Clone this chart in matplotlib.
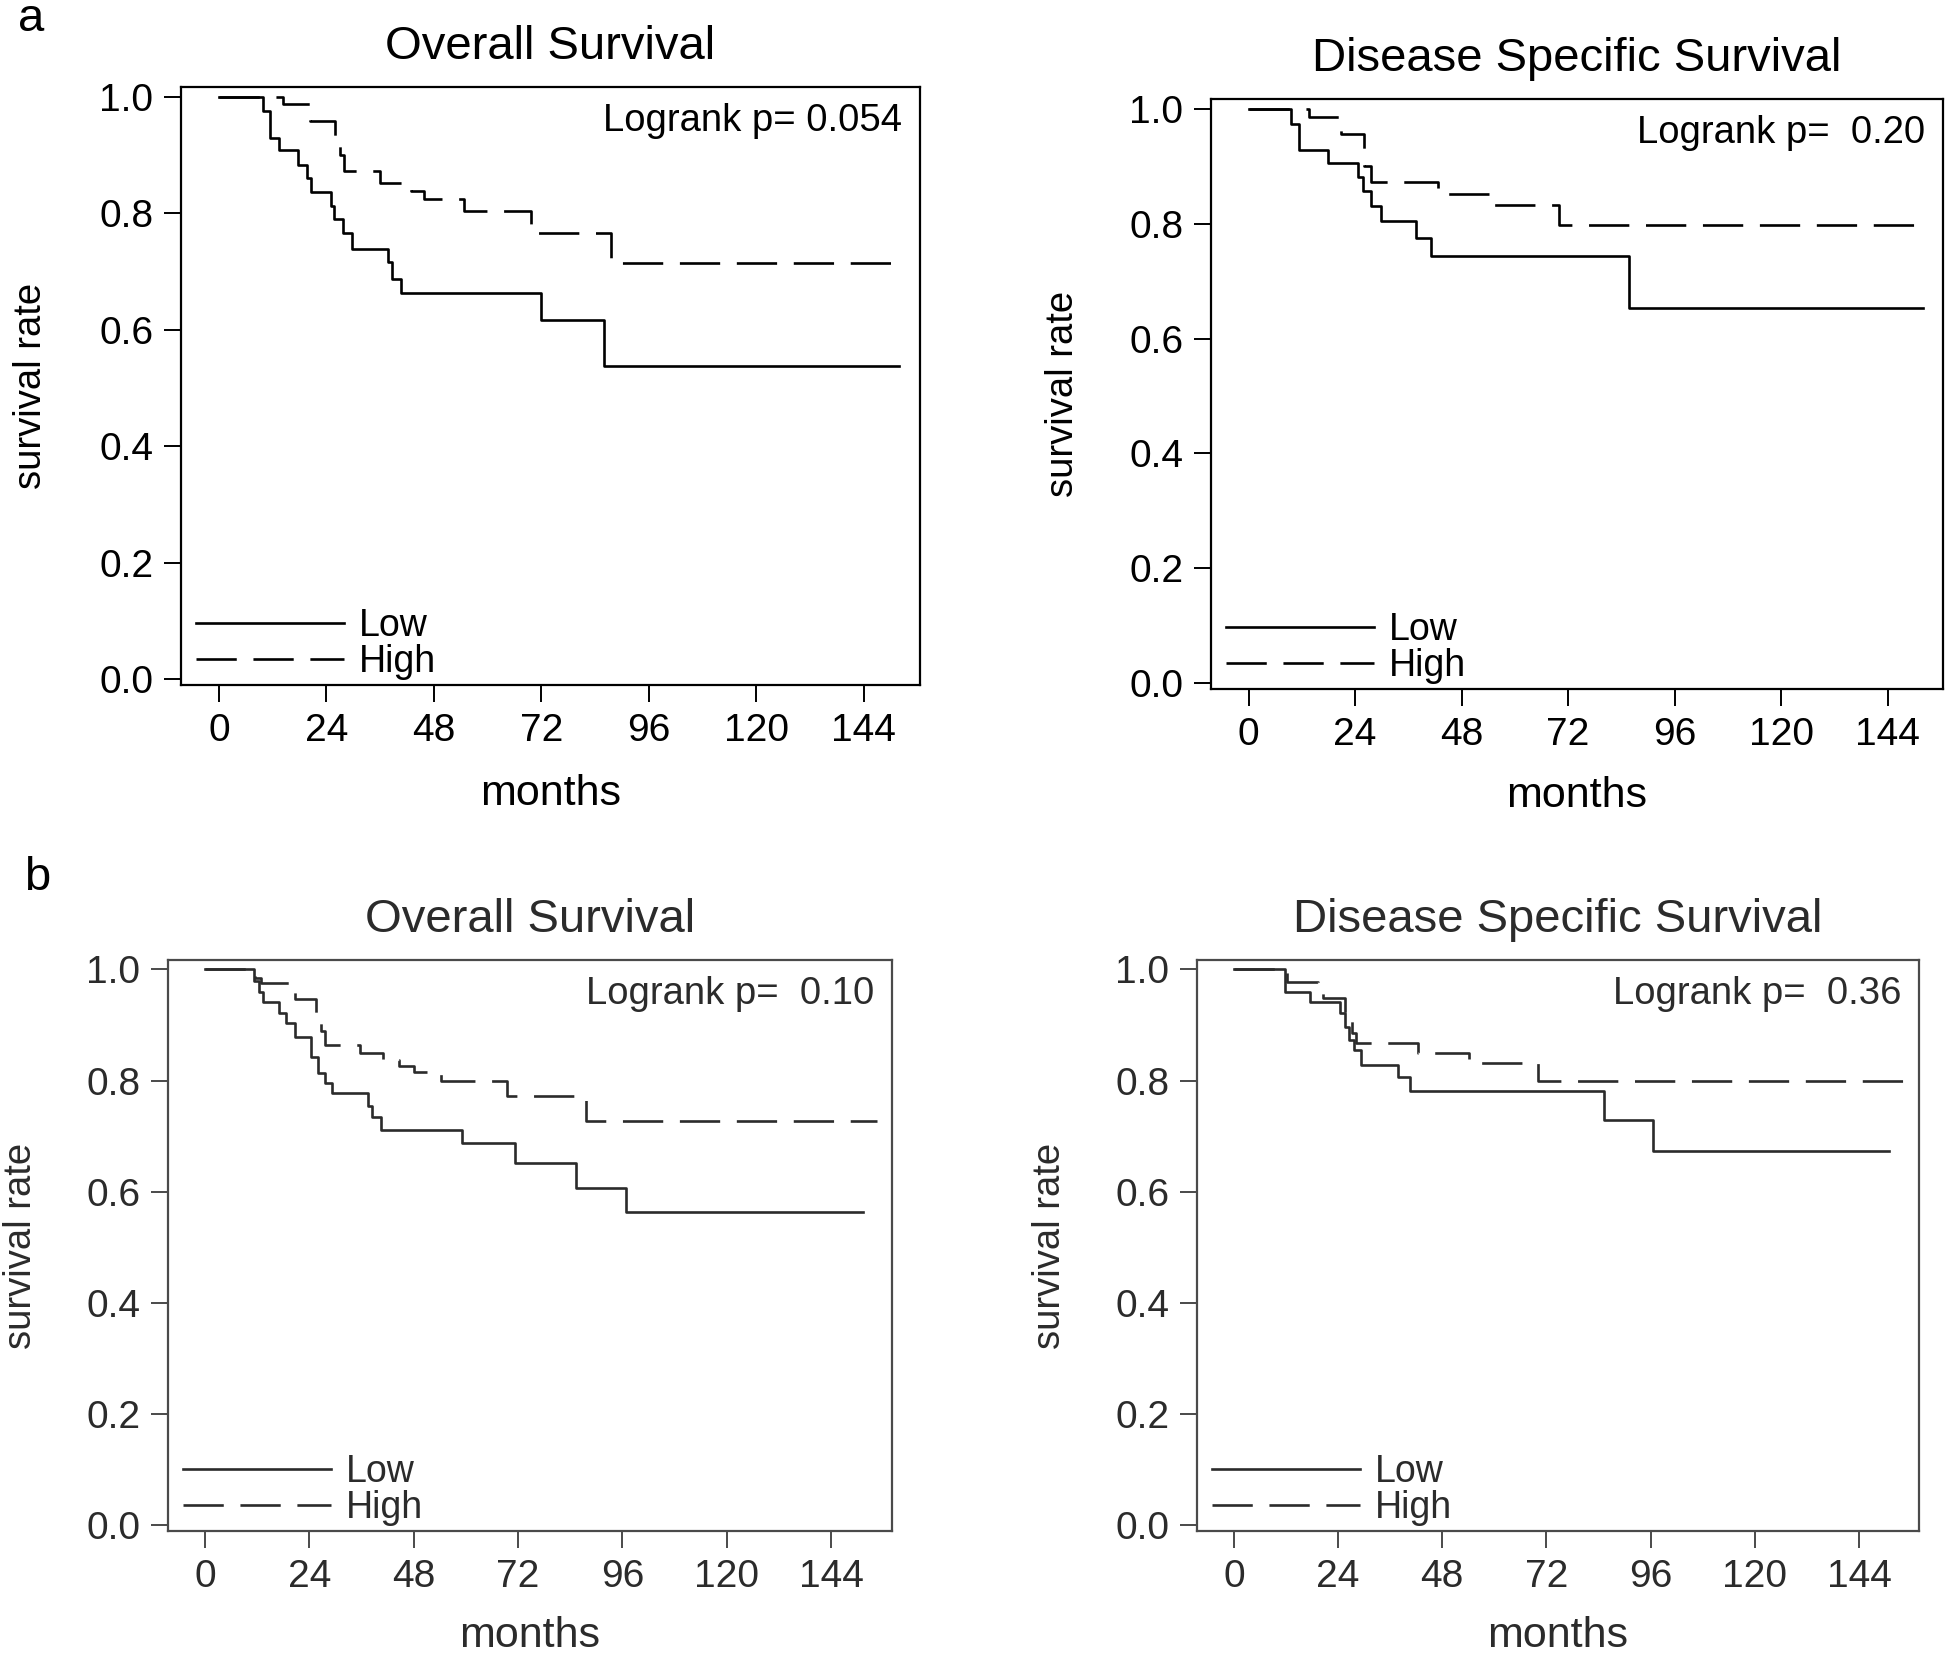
import numpy as np
import matplotlib.pyplot as plt

plt.rcParams['font.family'] = ['Liberation Sans', 'DejaVu Sans']
plt.rcParams['lines.scale_dashes'] = False

W, H = 1946, 1655

month_ticks = [0, 24, 48, 72, 96, 120, 144]
rate_ticks = [0.0, 0.2, 0.4, 0.6, 0.8, 1.0]
group_labels = ['Low', 'High']

# a: overall survival
a_os_low_t = [0, 9.8, 11.4, 13.5, 17.7, 19.6, 20.6, 24.9, 25.7, 27.8, 29.6, 37.8, 38.6, 40.7, 72.0, 85.9, 151.9]
a_os_low_s = [1.0, 0.976, 0.929, 0.908, 0.883, 0.861, 0.836, 0.813, 0.790, 0.766, 0.739, 0.716, 0.688, 0.663, 0.616, 0.538, 0.538]
a_os_high_t = [0, 14.3, 20.4, 26.0, 27.0, 28.0, 36.0, 42.9, 45.8, 54.8, 69.8, 87.6, 153.5]
a_os_high_s = [1.0, 0.987, 0.958, 0.93, 0.90, 0.872, 0.852, 0.839, 0.824, 0.804, 0.766, 0.715, 0.715]

# a: disease specific survival
a_dss_low_t = [0, 9.6, 11.4, 17.9, 24.6, 25.8, 27.5, 29.8, 37.8, 41.0, 85.8, 152.0]
a_dss_low_s = [1.0, 0.974, 0.929, 0.906, 0.882, 0.856, 0.830, 0.804, 0.775, 0.744, 0.654, 0.654]
a_dss_high_t = [0, 13.5, 20.8, 26.0, 27.5, 42.6, 54.5, 69.9, 153.5]
a_dss_high_s = [1.0, 0.985, 0.956, 0.90, 0.872, 0.852, 0.832, 0.798, 0.798]

# b: overall survival
b_os_low_t = [0, 11.2, 12.5, 13.4, 17.0, 18.6, 20.7, 24.4, 26.0, 27.6, 29.2, 37.4, 38.5, 40.4, 59.0, 71.2, 85.3, 96.9, 151.4]
b_os_low_s = [1.0, 0.98, 0.96, 0.942, 0.921, 0.903, 0.879, 0.843, 0.813, 0.795, 0.777, 0.755, 0.735, 0.711, 0.688, 0.652, 0.607, 0.563, 0.563]
b_os_high_t = [0, 11.5, 13.0, 19.5, 20.7, 25.5, 26.6, 27.5, 35.6, 40.9, 44.6, 48.0, 54.2, 69.4, 87.7, 154.6]
b_os_high_s = [1.0, 0.985, 0.976, 0.962, 0.946, 0.92, 0.89, 0.864, 0.849, 0.837, 0.826, 0.816, 0.800, 0.772, 0.728, 0.728]

# b: disease specific survival
b_dss_low_t = [0, 11.7, 17.5, 24.4, 25.5, 26.5, 27.6, 29.2, 37.7, 40.6, 85.2, 96.6, 151.0]
b_dss_low_s = [1.0, 0.960, 0.942, 0.921, 0.897, 0.873, 0.855, 0.828, 0.807, 0.781, 0.729, 0.673, 0.673]
b_dss_high_t = [0, 12.2, 19.3, 20.5, 25.5, 27.1, 28.1, 42.5, 54.1, 70.1, 155.0]
b_dss_high_s = [1.0, 0.978, 0.96, 0.948, 0.91, 0.885, 0.867, 0.849, 0.831, 0.80, 0.80]


def km_panel(box, low, high, title, pval, xmax, ink, frame):
    l, t, r, b = box
    w, h = r - l, b - t
    ax = fig.add_axes([l / W, 1 - b / H, w / W, h / H])
    ax.step(low[0], low[1], where='post', color=ink, lw=1.9, label=group_labels[0])
    ax.step(high[0], high[1], where='post', color=ink, lw=1.9,
            dashes=(29, 12), label=group_labels[1])
    ax.set_xlim(-8.5, xmax)
    ax.set_ylim(-0.01, 1.017)
    ax.set_xticks(month_ticks)
    ax.set_yticks(rate_ticks)
    ax.set_yticklabels(['%.1f' % v for v in rate_ticks])
    ax.tick_params(direction='out', length=12, width=1.4, pad=8,
                   labelsize=28, colors=frame, labelcolor=ink)
    for sp in ax.spines.values():
        sp.set_linewidth(1.6)
        sp.set_color(frame)
    ax.set_title(title, fontsize=34, pad=20.5, color=ink)
    ax.set_xlabel('months', fontsize=31, color=ink)
    ax.set_ylabel('survival rate', fontsize=27.5, color=ink)
    ax.xaxis.set_label_coords(0.5, -0.148)
    ax.yaxis.set_label_coords(-0.178, 0.5)
    ax.annotate('Logrank p= ' + pval, xy=(1, 1), xycoords='axes fraction',
                xytext=(-18, -34), textcoords='offset pixels',
                ha='right', va='center', fontsize=27.5, color=ink)
    leg = ax.legend(loc='lower left', frameon=False, fontsize=27,
                    handlelength=3.95, handletextpad=0.4, labelspacing=0.0,
                    borderpad=0.0, borderaxespad=0.0,
                    bbox_to_anchor=(15 / w, 5 / h))
    for txt in leg.get_texts():
        txt.set_color(ink)
    return ax


fig = plt.figure(figsize=(W / 100, H / 100), dpi=100)

km_panel((181, 87, 920, 685), (a_os_low_t, a_os_low_s), (a_os_high_t, a_os_high_s),
         'Overall Survival', '0.054', 156.6, 'black', 'black')
km_panel((1211, 99, 1943, 689), (a_dss_low_t, a_dss_low_s), (a_dss_high_t, a_dss_high_s),
         'Disease Specific Survival', ' 0.20', 156.5, 'black', 'black')
km_panel((168, 960, 892, 1531), (b_os_low_t, b_os_low_s), (b_os_high_t, b_os_high_s),
         'Overall Survival', ' 0.10', 158.0, '#2b2b2b', '#4a4a4a')
km_panel((1197, 960, 1919, 1531), (b_dss_low_t, b_dss_low_s), (b_dss_high_t, b_dss_high_s),
         'Disease Specific Survival', ' 0.36', 157.8, '#2b2b2b', '#4a4a4a')

fig.text(31 / W, 1 - 19 / H, 'a', fontsize=34, ha='center', va='center')
fig.text(37 / W, 1 - 878 / H, 'b', fontsize=34, ha='center', va='center')

fig.savefig('out.png', dpi=100)
